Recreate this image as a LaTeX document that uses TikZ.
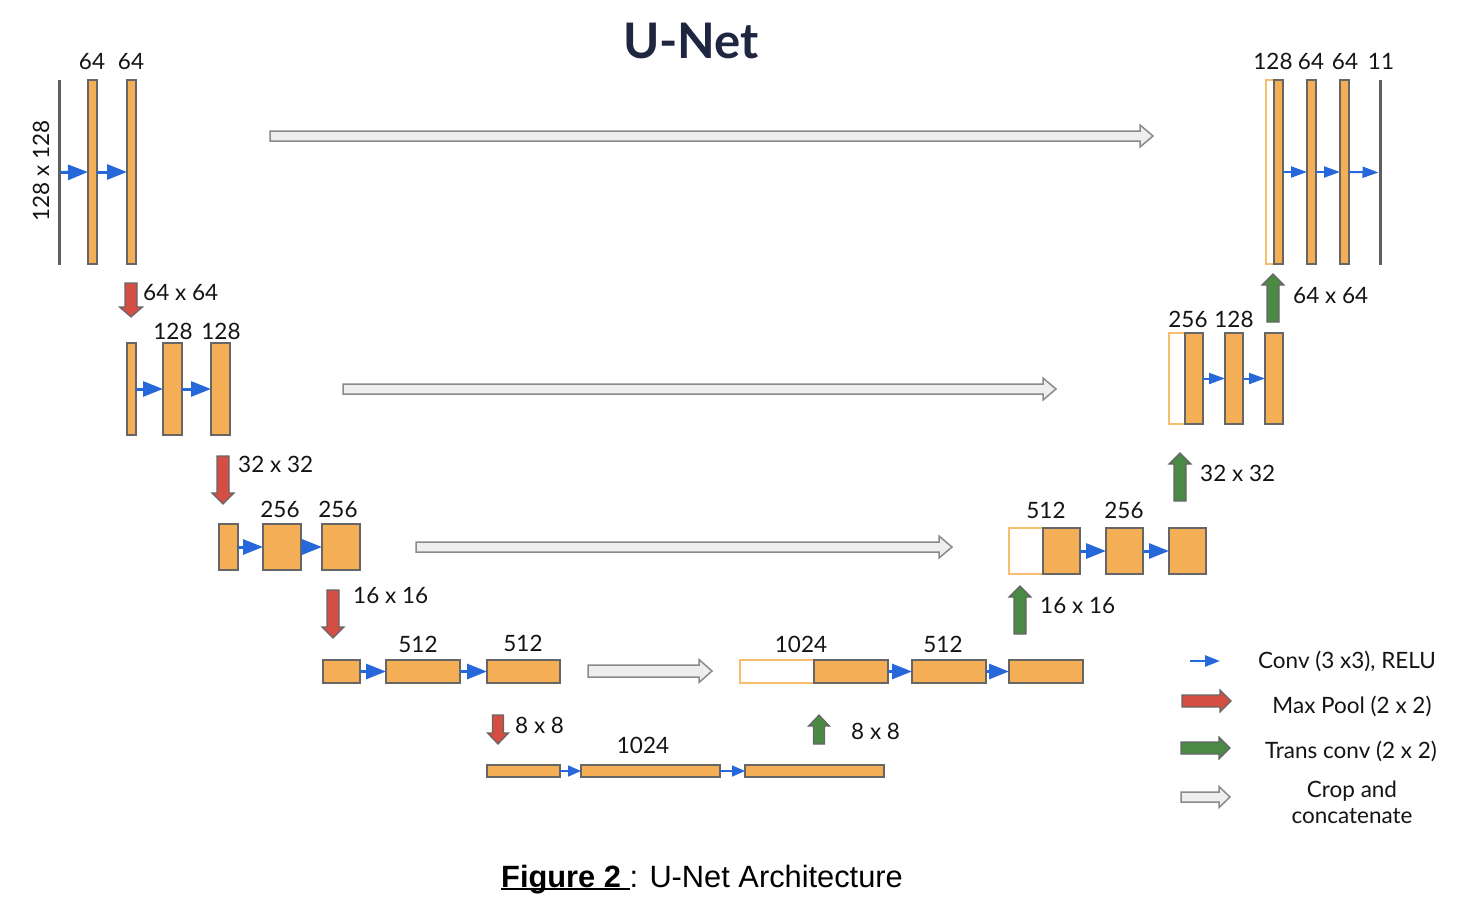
\documentclass[tikz,border=0pt]{standalone}
\usepackage{fontspec}
\setmainfont{Lato}
\newfontfamily\capfont{Liberation Sans}
\usetikzlibrary{arrows.meta}
\definecolor{barfill}{HTML}{F4AE55}
\definecolor{bargray}{HTML}{666666}
\definecolor{outl}{HTML}{F7BE70}
\definecolor{convblue}{HTML}{2668D9}
\definecolor{poolred}{HTML}{D44E43}
\definecolor{upgreen}{HTML}{4A8A45}
\definecolor{cropfill}{HTML}{EEEEEE}
\definecolor{cropdraw}{HTML}{8A8A8A}
\definecolor{titlecol}{HTML}{1E2640}
\definecolor{inline}{HTML}{5E5E5E}
% block: name, style, x1, x2, y1, y2
\newcommand\Blk[6]{\node[#2,minimum width={(#4-#3)*1pt},minimum height={(#6-#5)*1pt}] (#1) at ({(#3+#4)/2},{(#5+#6)/2}) {};}
% horizontal block arrow: style, x1, x2, y, shaft half, head half, head length
\newcommand\HBlk[7]{\draw[#1] (#2,{#4-#5}) -- ({#3-#7},{#4-#5}) -- ({#3-#7},{#4-#6}) -- (#3,#4) -- ({#3-#7},{#4+#6}) -- ({#3-#7},{#4+#5}) -- (#2,{#4+#5}) -- cycle;}
% down block arrow: style, x, y1, y2(tip), s, h, L
\newcommand\DBlk[7]{\draw[#1] ({#2-#5},#3) -- ({#2-#5},{#4-#7}) -- ({#2-#6},{#4-#7}) -- (#2,#4) -- ({#2+#6},{#4-#7}) -- ({#2+#5},{#4-#7}) -- ({#2+#5},#3) -- cycle;}
% up block arrow: style, x, y1(tip), y2, s, h, L
\newcommand\UBlk[7]{\draw[#1] ({#2-#5},#4) -- ({#2-#5},{#3+#7}) -- ({#2-#6},{#3+#7}) -- (#2,#3) -- ({#2+#6},{#3+#7}) -- ({#2+#5},{#3+#7}) -- ({#2+#5},#4) -- cycle;}
\newcommand\myul[1]{\setbox0\hbox{#1}\rlap{\rule[-3pt]{\wd0}{2pt}}\box0}
\tikzset{
  bar/.style={draw=bargray, fill=barfill, line width=1.3pt, inner sep=0pt, outer sep=0pt},
  hollow/.style={draw=outl, fill=white, line width=1.3pt, inner sep=0pt, outer sep=0pt},
  inbar/.style={fill=inline, draw=none, inner sep=0pt, outer sep=0pt},
  conv/.style={draw=convblue, line width=3pt, -{Triangle[length=20pt,width=15pt]}},
  convm/.style={draw=convblue, line width=2pt, -{Triangle[length=16pt,width=11pt]}},
  convs/.style={draw=convblue, line width=1.5pt, -{Triangle[length=13pt,width=11pt]}},
  pool/.style={fill=poolred, draw=bargray, line width=1.2pt, line join=miter},
  up/.style={fill=upgreen, draw=bargray, line width=1.2pt, line join=miter},
  crop/.style={fill=cropfill, draw=cropdraw, line width=1.5pt, line join=miter},
  lab/.style={font=\fontsize{22.5}{26}\selectfont, inner sep=0pt, anchor=base, text=black!92},
  labl/.style={lab, anchor=base west},
}
\begin{document}
\begin{tikzpicture}[x=1pt,y=-1pt]
\useasboundingbox[fill=white] (0,0) rectangle (1462,914);
% title
\node[font=\fontsize{49}{53}\selectfont\bfseries, text=titlecol, inner sep=0pt, anchor=base] (title) at (691,58) {U-Net};

% ---- level 1 left
\Blk{in1}{inbar}{57.5}{60.5}{80}{265}
\Blk{a1}{bar}{88}{97}{80}{264}
\Blk{a2}{bar}{127}{136}{80}{264}
\draw[conv] (in1.east) -- (a1.west);
\draw[conv] (a1.east) -- (a2.west);
\node[lab] (la1) at (92,69) {64};
\node[lab] (la2) at (131,69) {64};
\node[lab, rotate=90, anchor=center] (lin) at (41,171) {128 x 128};

% ---- level 2 left
\Blk{b0}{bar}{127}{136}{343}{435}
\Blk{b1}{bar}{163}{182}{343}{435}
\Blk{b2}{bar}{211}{230}{343}{435}
\draw[conv] (b0.east) -- (b1.west);
\draw[conv] (b1.east) -- (b2.west);
\node[lab] (lb1) at (173,339) {128};
\node[lab] (lb2) at (221,339) {128};
\DBlk{pool}{131}{283}{317}{6}{11.5}{10}
\node[labl] (lp1) at (143,300) {64 x 64};

% ---- level 3 left
\Blk{c0}{bar}{219}{238}{524}{570}
\Blk{c1}{bar}{263}{301}{524}{570}
\Blk{c2}{bar}{322}{360}{524}{570}
\draw[conv] (c0.east) -- (c1.west);
\draw[conv] (c1.east) -- (c2.west);
\node[lab] (lc1) at (280,517) {256};
\node[lab] (lc2) at (338,517) {256};
\DBlk{pool}{223}{456}{504}{6}{11}{11}
\node[labl] (lp2) at (238,472) {32 x 32};

% ---- level 4 left
\Blk{d0}{bar}{323}{360}{660}{683}
\Blk{d1}{bar}{386}{460}{660}{683}
\Blk{d2}{bar}{487}{560}{660}{683}
\draw[conv] (d0.east) -- (d1.west);
\draw[conv] (d1.east) -- (d2.west);
\node[lab] (ld1) at (418,652) {512};
\node[lab] (ld2) at (523,651) {512};
\DBlk{pool}{333}{590}{638}{6}{11}{11}
\node[labl] (lp3) at (353,603) {16 x 16};

% ---- bottom
\Blk{e0}{bar}{487}{560}{765}{777}
\Blk{e1}{bar}{581}{720}{765}{777}
\Blk{e2}{bar}{745}{884}{765}{777}
\draw[convs] (e0.east) -- (e1.west);
\draw[convs] (e1.east) -- (e2.west);
\node[lab] (le1) at (643,753) {1024};
\DBlk{pool}{498}{715}{744}{5.5}{10.5}{11}
\node[labl] (lp4) at (515,733) {8 x 8};
\UBlk{up}{819}{715}{744}{5.5}{10.5}{11}
\node[labl] (lu4) at (851,739) {8 x 8};

% ---- level 4 right
\Blk{f0}{hollow}{740}{814}{660}{683}
\Blk{f1}{bar}{814}{888}{660}{683}
\Blk{f2}{bar}{912}{986}{660}{683}
\Blk{f3}{bar}{1009}{1083}{660}{683}
\draw[conv] (f1.east) -- (f2.west);
\draw[conv] (f2.east) -- (f3.west);
\node[lab] (lf1) at (801,652) {1024};
\node[lab] (lf2) at (943,652) {512};
\UBlk{up}{1020}{586}{634}{6}{11}{11}
\node[labl] (lu3) at (1040,613) {16 x 16};

% ---- level 3 right
\Blk{g0}{hollow}{1009}{1043}{528}{574}
\Blk{g1}{bar}{1043}{1080}{528}{574}
\Blk{g2}{bar}{1106}{1143}{528}{574}
\Blk{g3}{bar}{1169}{1206}{528}{574}
\draw[conv] (g1.east) -- (g2.west);
\draw[conv] (g2.east) -- (g3.west);
\node[lab] (lg1) at (1046,518) {512};
\node[lab] (lg2) at (1124,518) {256};
\UBlk{up}{1180}{453}{501}{6}{11}{11}
\node[labl] (lu2) at (1200,481) {32 x 32};

% ---- level 2 right
\Blk{h0}{hollow}{1169}{1185}{333}{424}
\Blk{h1}{bar}{1185}{1203}{333}{424}
\Blk{h2}{bar}{1225}{1243}{333}{424}
\Blk{h3}{bar}{1265}{1283}{333}{424}
\draw[convm] (h1.east) -- (h2.west);
\draw[convm] (h2.east) -- (h3.west);
\node[lab] (lh1) at (1188,327) {256};
\node[lab] (lh2) at (1234,327) {128};
\UBlk{up}{1273}{274}{322}{6}{11}{11}
\node[labl] (lu1) at (1293,303) {64 x 64};

% ---- level 1 right
\Blk{i0}{hollow}{1266}{1274}{80}{264}
\Blk{i1}{bar}{1274}{1283}{80}{264}
\Blk{i2}{bar}{1307}{1316}{80}{264}
\Blk{i3}{bar}{1340}{1349}{80}{264}
\Blk{out}{inbar}{1378.5}{1381.5}{80}{265}
\draw[convm] (i1.east) -- (i2.west);
\draw[convm] (i2.east) -- (i3.west);
\draw[convm] (i3.east) -- (out.west);
\node[lab] (li0) at (1273,69) {128};
\node[lab] (li1) at (1311,69) {64};
\node[lab] (li2) at (1345,69) {64};
\node[lab] (li3) at (1381,69) {11};

% ---- crop and concatenate
\HBlk{crop}{270}{1153}{136}{5}{11}{13}
\HBlk{crop}{343}{1056}{389}{5}{11}{13}
\HBlk{crop}{416}{952}{547}{5}{11}{13}
\HBlk{crop}{588}{712}{671}{6}{11.5}{13}

% ---- legend
\coordinate (k1a) at (1190,661);
\coordinate (k1b) at (1220,661);
\draw[convm, line width=2.5pt, -{Triangle[length=15pt,width=11pt]}] (k1a) -- (k1b);
\node[lab] (t1) at (1347,668) {Conv (3 x3), RELU};
\HBlk{pool}{1182}{1231}{701}{6}{11}{11}
\node[lab] (t2) at (1352,713) {Max Pool (2 x 2)};
\HBlk{up}{1181}{1230}{748}{6}{11}{11}
\node[lab] (t3) at (1351,758) {Trans conv (2 x 2)};
\HBlk{crop}{1181}{1230}{797}{5}{10.5}{11}
\node[lab] (t4) at (1352,797) {Crop and};
\node[lab] (t5) at (1352,823) {concatenate};

% caption
\node[font=\fontsize{30.8}{34}\selectfont\capfont, inner sep=0pt, anchor=base] (cap) at (702,887) {\myul{\textbf{Figure 2 }}: U-Net Architecture};
\end{tikzpicture}
\end{document}
